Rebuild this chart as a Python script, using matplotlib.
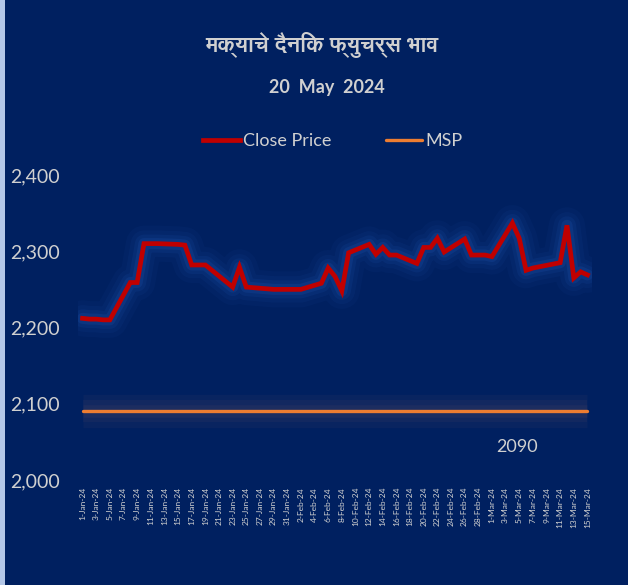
import pandas as pd
import matplotlib
matplotlib.use("Agg")
import matplotlib.pyplot as plt
from matplotlib import font_manager
from matplotlib.patches import Rectangle

# Data
dates = ["2024-01-01", "2024-01-02", "2024-01-03", "2024-01-04", "2024-01-05",
         "2024-01-08", "2024-01-09", "2024-01-10", "2024-01-11", "2024-01-12",
         "2024-01-15", "2024-01-16", "2024-01-17", "2024-01-18", "2024-01-19",
         "2024-01-23", "2024-01-24", "2024-01-25",
         "2024-01-29", "2024-01-30", "2024-01-31", "2024-02-01", "2024-02-02",
         "2024-02-05", "2024-02-06", "2024-02-07", "2024-02-08", "2024-02-09",
         "2024-02-12", "2024-02-13", "2024-02-14", "2024-02-15", "2024-02-16",
         "2024-02-19", "2024-02-20", "2024-02-21", "2024-02-22", "2024-02-23",
         "2024-02-26", "2024-02-27", "2024-02-28", "2024-02-29", "2024-03-01",
         "2024-03-04", "2024-03-05", "2024-03-06", "2024-03-07",
         "2024-03-11", "2024-03-12", "2024-03-13", "2024-03-14", "2024-03-15"]
close_price = [2212, 2211, 2211, 2210, 2210,
               2259, 2259, 2310, 2310, 2310,
               2309, 2308, 2282, 2282, 2282,
               2253, 2279, 2253,
               2250, 2250, 2250, 2250, 2250,
               2258, 2278, 2267, 2248, 2298,
               2309, 2296, 2305, 2295, 2295,
               2284, 2305, 2305, 2317, 2299,
               2316, 2295, 2295, 2295, 2293,
               2337, 2317, 2275, 2278,
               2285, 2334, 2265, 2273, 2269]
msp_value = 2090
msp_label_date = "2024-03-04"
y_ticks = [2000, 2100, 2200, 2300, 2400]

title = "मक्याचे दैनिक फ्युचर्स भाव"
subtitle = "20  May  2024"

x = pd.to_datetime(dates)
msp = [msp_value] * len(x)

bg = "#002060"
txt = "#d0d0d0"

# a font with Devanagari glyphs, if there is one
deva = [f.name for f in font_manager.fontManager.ttflist
        if "Devanagari" in f.name or f.name in ("Lohit Devanagari", "Mangal", "FreeSans", "Gargi")]
base_family = ["Lato", "DejaVu Sans"]
title_family = deva[:1] + base_family
plt.rcParams["font.family"] = base_family

fig = plt.figure(figsize=(6.28, 5.85), dpi=100, facecolor=bg)
fig.patches.append(Rectangle((0, 0), 5 / 628, 1, transform=fig.transFigure,
                             facecolor="#b4c7e7", edgecolor="none"))
ax = fig.add_axes([78 / 628, 1 - 480 / 585, 514 / 628, 305 / 585])
ax.set_facecolor(bg)

# glow behind the close price line
for lw, a in [(26, 0.05), (19, 0.07), (13, 0.10), (8, 0.15)]:
    ax.plot(x, close_price, color="#2a63c8", lw=lw, alpha=a,
            solid_joinstyle="round", solid_capstyle="round")
# shadow band behind the MSP line
for lw, a in [(24, 0.10), (16, 0.12), (9, 0.15)]:
    ax.plot(x, msp, color="#5a4a60", lw=lw, alpha=a, solid_capstyle="butt")

ax.plot(x, close_price, color="#c00000", lw=3.4, label="Close Price",
        solid_joinstyle="miter")
ax.plot(x, msp, color="#ed7d31", lw=2.4, label="MSP", solid_capstyle="round")

ax.annotate(str(msp_value), (pd.Timestamp(msp_label_date), msp_value),
            xytext=(3, -26), textcoords="offset points", ha="center", va="center",
            color=txt, fontsize=13)

x_start = pd.Timestamp("2024-01-01")
x_end = pd.Timestamp("2024-03-15")
ax.set_xlim(x_start - pd.Timedelta(hours=16), x_end + pd.Timedelta(hours=16))
ax.set_ylim(2000, 2400)

tick_dates = pd.date_range(x_start, x_end, freq="2D")
ax.set_xticks(tick_dates)
ax.set_xticklabels([f"{d.day}-{d.strftime('%b')}-{d.strftime('%y')}" for d in tick_dates],
                   rotation=90, fontsize=6, color=txt)
ax.set_yticks(y_ticks)
ax.set_yticklabels([f"{v:,}" for v in y_ticks], fontsize=14, color=txt)
ax.tick_params(axis="y", length=0, pad=13)
ax.tick_params(axis="x", length=0, pad=5)
for s in ax.spines.values():
    s.set_visible(False)

fig.text(322 / 628, 1 - 45 / 585, title, ha="center", va="center", fontsize=16,
         fontweight="bold", color=txt, family=title_family)
fig.text(327 / 628, 1 - 87 / 585, subtitle, ha="center", va="center", fontsize=13,
         fontweight="bold", color=txt)

leg = fig.legend(loc="center", bbox_to_anchor=(333 / 628, 1 - 141 / 585), ncol=2,
                 frameon=False, fontsize=13, handlelength=2.0, handletextpad=0.2,
                 columnspacing=3.0)
for t in leg.get_texts():
    t.set_color(txt)

fig.savefig("out.png", dpi=100, facecolor=bg)
